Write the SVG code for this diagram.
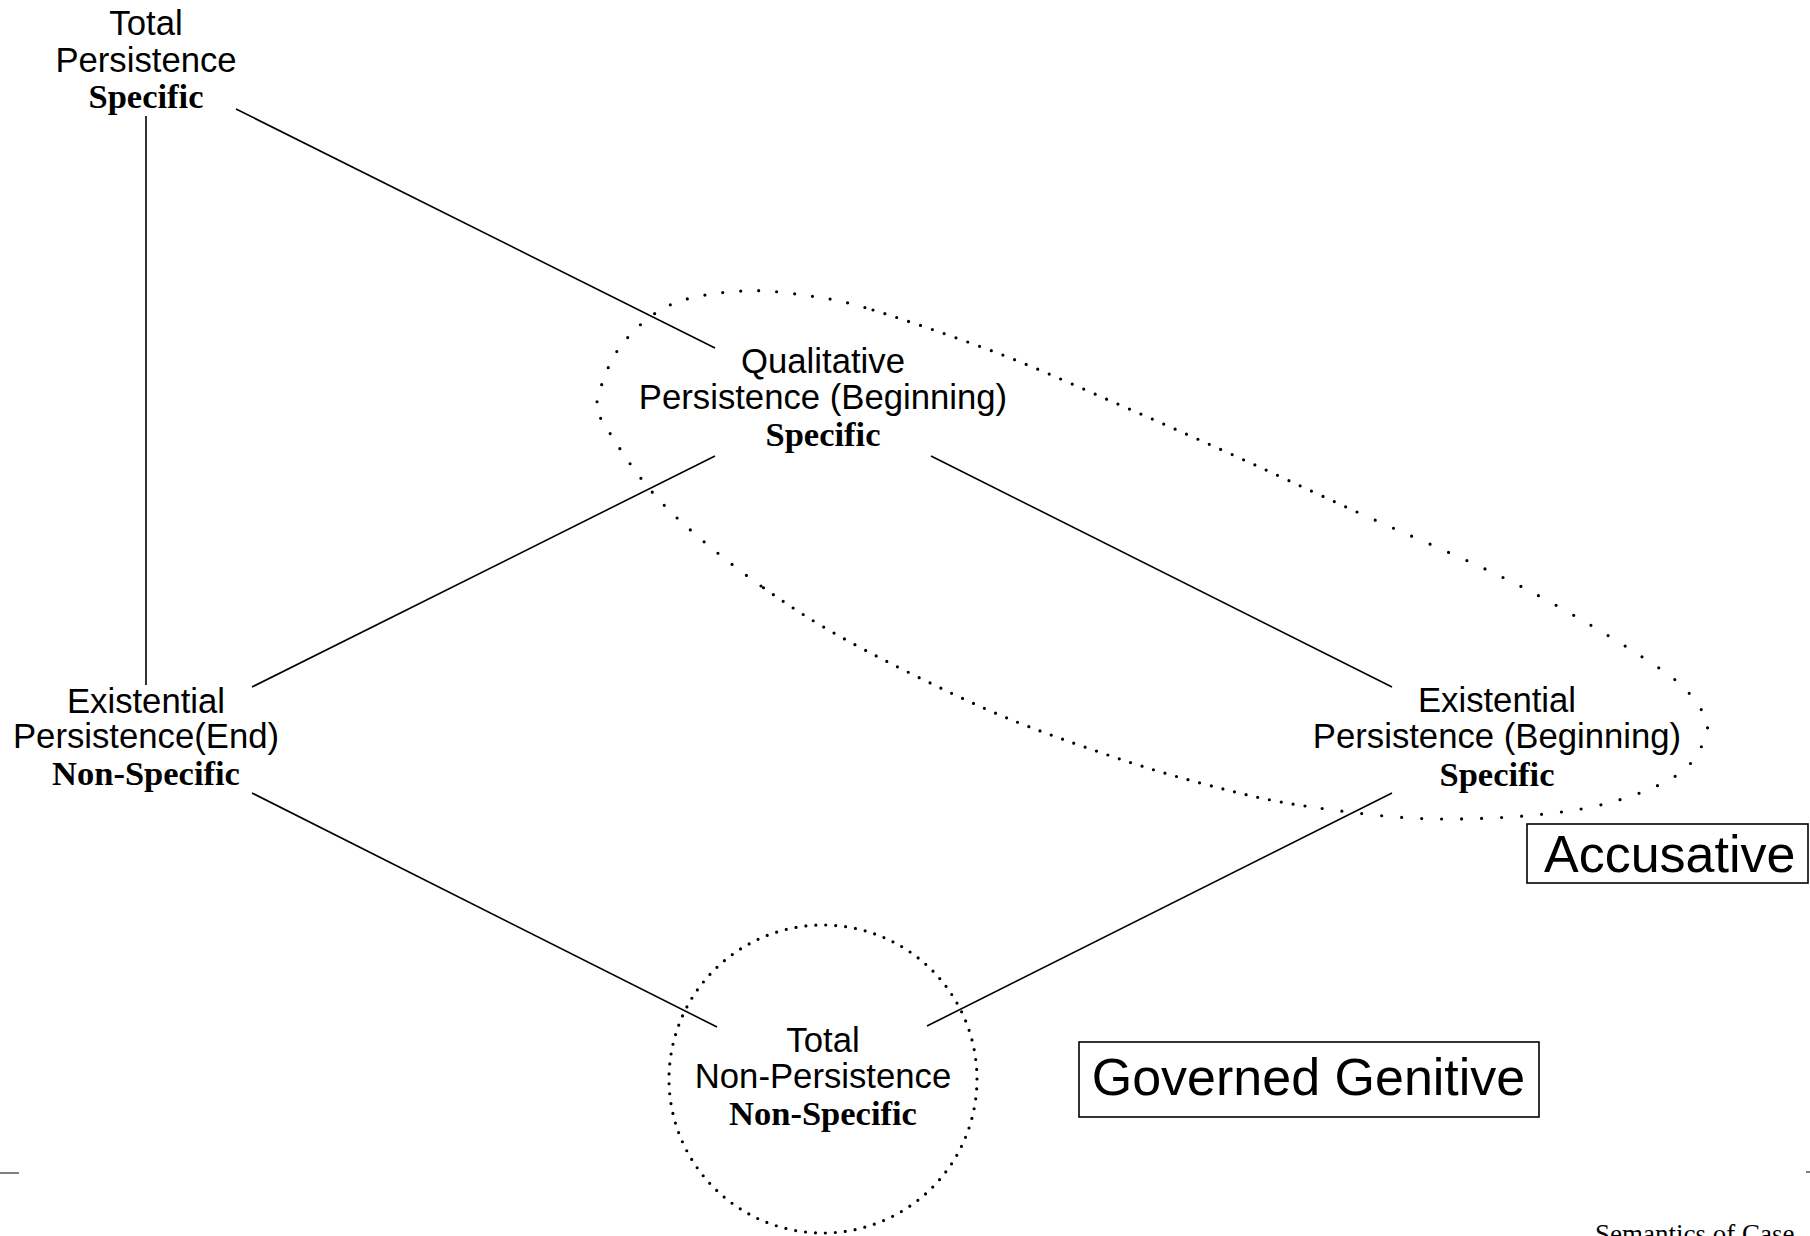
<svg xmlns="http://www.w3.org/2000/svg" width="1810" height="1236" viewBox="0 0 1810 1236">
  <style>
    .lbl { font-family: "Liberation Sans", Arial, sans-serif; font-size: 34.7px; fill: #000; text-anchor: middle; }
    .spec { font-family: "Liberation Serif", "Times New Roman", serif; font-size: 34.5px; font-weight: bold; fill: #000; text-anchor: middle; }
    .case { font-family: "Liberation Sans", Arial, sans-serif; font-size: 52px; fill: #000; }
    .edge { stroke: #000; stroke-width: 1.6; fill: none; }
    .dots { stroke: #000; stroke-width: 3.2; stroke-linecap: round; fill: none; }
    .box { stroke: #000; stroke-width: 1.6; fill: none; }
  </style>
  <rect x="0" y="0" width="1810" height="1236" fill="#fff"/>

  <!-- lattice connectors -->
  <g id="connectors">
    <line class="edge" x1="146" y1="116" x2="146" y2="685"/>
    <line class="edge" x1="236" y1="109" x2="715" y2="348"/>
    <line class="edge" x1="715" y1="456" x2="252" y2="687"/>
    <line class="edge" x1="931" y1="456" x2="1392" y2="687"/>
    <line class="edge" x1="252" y1="793" x2="717" y2="1027"/>
    <line class="edge" x1="1392" y1="793" x2="927" y2="1026"/>
  </g>

  <!-- dotted grouping outlines -->
  <g id="accusative-region">
    <path class="dots" stroke-dasharray="0 18" d="M761,586 C733.8,566.8 706.7,544.5 687,527 C667.3,509.5 656.7,498 643,481 C629.3,464 612.7,438.2 605,425 C597.3,411.8 594.5,415 597,402 C599.5,389 607.8,363.2 620,347 C632.2,330.8 649.7,314.3 670,305 C690.3,295.7 718.7,292.5 742,291 C765.3,289.5 788.2,292.8 810,296 C831.8,299.2 841.3,300.3 873,310"/>
    <path class="dots" stroke-dasharray="0 12.5" d="M873,310 C904.7,319.7 958.8,338.2 1000,354 C1041.2,369.8 1081.2,388.2 1120,405 C1158.8,421.8 1193.5,437.2 1233,455 C1272.5,472.8 1308.8,490 1357,512"/>
    <path class="dots" stroke-dasharray="0 20" d="M1357,512 C1405.2,534 1472.2,561.3 1522,587 C1571.8,612.7 1626.7,646.3 1656,666 C1685.3,685.7 1689.7,693.5 1698,705 C1706.3,716.5 1710,723 1706,735 C1702,747 1694.8,764.7 1674,777 C1653.2,789.3 1620.2,802 1581,809 C1541.8,816 1485,819.5 1439,819 C1393,818.5 1344.2,811.8 1305,806"/>
    <path class="dots" stroke-dasharray="0 12" d="M1305,806 C1265.8,800.2 1237.8,792.8 1204,784 C1170.2,775.2 1138.3,765.5 1102,753 C1065.7,740.5 1028,727.5 986,709 C944,690.5 887.5,662.5 850,642 C812.5,621.5 788.2,605.2 761,586"/>
  </g>
  <g id="genitive-region">
    <circle class="dots" cx="823" cy="1079" r="154" stroke-dasharray="0 9.975"/>
  </g>

  <!-- lattice nodes -->
  <g id="total-persistence">
    <text class="lbl" x="146" y="35">Total</text>
    <text class="lbl" x="146" y="72">Persistence</text>
    <text class="spec" x="146" y="108">Specific</text>
  </g>
  <g id="qualitative-persistence">
    <text class="lbl" x="823" y="373">Qualitative</text>
    <text class="lbl" x="823" y="409">Persistence (Beginning)</text>
    <text class="spec" x="823" y="446">Specific</text>
  </g>
  <g id="existential-end">
    <text class="lbl" x="146" y="713">Existential</text>
    <text class="lbl" x="146" y="748">Persistence(End)</text>
    <text class="spec" x="146" y="785">Non-Specific</text>
  </g>
  <g id="existential-beginning">
    <text class="lbl" x="1497" y="712">Existential</text>
    <text class="lbl" x="1497" y="748">Persistence (Beginning)</text>
    <text class="spec" x="1497" y="786">Specific</text>
  </g>
  <g id="total-non-persistence">
    <text class="lbl" x="823" y="1052">Total</text>
    <text class="lbl" x="823" y="1088">Non-Persistence</text>
    <text class="spec" x="823" y="1125">Non-Specific</text>
  </g>

  <!-- case labels -->
  <g id="accusative-label">
    <rect class="box" x="1527" y="824" width="281" height="59"/>
    <text class="case" x="1544" y="872">Accusative</text>
  </g>
  <g id="genitive-label">
    <rect class="box" x="1079" y="1042" width="460" height="75"/>
    <text class="case" x="1308.5" y="1095" text-anchor="middle">Governed Genitive</text>
  </g>

  <!-- page furniture -->
  <g id="page-footer">
    <line x1="0" y1="1173" x2="19" y2="1173" stroke="#808080" stroke-width="2"/>
    <line x1="1806" y1="1172" x2="1810" y2="1172" stroke="#808080" stroke-width="2"/>
    <text x="1595" y="1243" font-family="'Liberation Serif', 'Times New Roman', serif" font-size="27px" fill="#000">Semantics of Case</text>
  </g>
</svg>
